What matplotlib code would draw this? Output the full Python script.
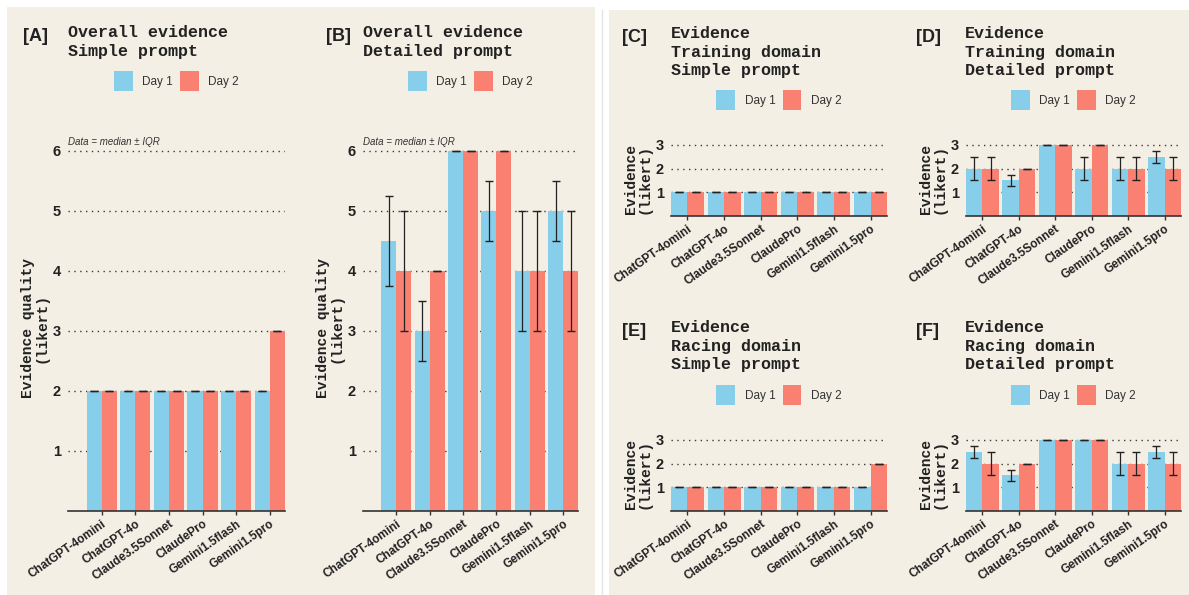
import matplotlib
matplotlib.use("Agg")
import matplotlib.pyplot as plt
from matplotlib.patches import Patch, Rectangle
from matplotlib.lines import Line2D
import numpy as np

# ---------------- data ----------------
models = ["ChatGPT-4omini", "ChatGPT-4o", "Claude3.5Sonnet", "ClaudePro",
          "Gemini1.5flash", "Gemini1.5pro"]
day_labels = ["Day 1", "Day 2"]

# Panel A: Overall evidence, simple prompt (median, lower, upper)
a_d1 = [2, 2, 2, 2, 2, 2]
a_d1_lo = [2, 2, 2, 2, 2, 2]
a_d1_hi = [2, 2, 2, 2, 2, 2]
a_d2 = [2, 2, 2, 2, 2, 3]
a_d2_lo = [2, 2, 2, 2, 2, 3]
a_d2_hi = [2, 2, 2, 2, 2, 3]

# Panel B: Overall evidence, detailed prompt
b_d1 = [4.5, 3, 6, 5, 4, 5]
b_d1_lo = [3.75, 2.5, 6, 4.5, 3, 4.5]
b_d1_hi = [5.25, 3.5, 6, 5.5, 5, 5.5]
b_d2 = [4, 4, 6, 6, 4, 4]
b_d2_lo = [3, 4, 6, 6, 3, 3]
b_d2_hi = [5, 4, 6, 6, 5, 5]

# Panel C: Training domain, simple prompt
c_d1 = [1, 1, 1, 1, 1, 1]
c_d1_lo = [1, 1, 1, 1, 1, 1]
c_d1_hi = [1, 1, 1, 1, 1, 1]
c_d2 = [1, 1, 1, 1, 1, 1]
c_d2_lo = [1, 1, 1, 1, 1, 1]
c_d2_hi = [1, 1, 1, 1, 1, 1]

# Panel D: Training domain, detailed prompt
d_d1 = [2, 1.5, 3, 2, 2, 2.5]
d_d1_lo = [1.5, 1.25, 3, 1.5, 1.5, 2.25]
d_d1_hi = [2.5, 1.75, 3, 2.5, 2.5, 2.75]
d_d2 = [2, 2, 3, 3, 2, 2]
d_d2_lo = [1.5, 2, 3, 3, 1.5, 1.5]
d_d2_hi = [2.5, 2, 3, 3, 2.5, 2.5]

# Panel E: Racing domain, simple prompt
e_d1 = [1, 1, 1, 1, 1, 1]
e_d1_lo = [1, 1, 1, 1, 1, 1]
e_d1_hi = [1, 1, 1, 1, 1, 1]
e_d2 = [1, 1, 1, 1, 1, 2]
e_d2_lo = [1, 1, 1, 1, 1, 2]
e_d2_hi = [1, 1, 1, 1, 1, 2]

# Panel F: Racing domain, detailed prompt
f_d1 = [2.5, 1.5, 3, 3, 2, 2.5]
f_d1_lo = [2.25, 1.25, 3, 3, 1.5, 2.25]
f_d1_hi = [2.75, 1.75, 3, 3, 2.5, 2.75]
f_d2 = [2, 2, 3, 3, 2, 2]
f_d2_lo = [1.5, 2, 3, 3, 1.5, 1.5]
f_d2_hi = [2.5, 2, 3, 3, 2.5, 2.5]

big_yticks = [1, 2, 3, 4, 5, 6]
small_yticks = [1, 2, 3]

# ---------------- style ----------------
BG = "#F4EFE4"
BLUE = "#87CEEB"
RED = "#FA8072"
DARK = "#222222"
MONO = "Liberation Mono"
SANS = "Liberation Sans"

W, H = 1189, 595
fig = plt.figure(figsize=(W / 100, H / 100), dpi=100, facecolor="white")


def fx(px):
    return px / W


def fy(py):
    return 1 - py / H


fig.patches.append(Rectangle((fx(7), 0), fx(595) - fx(7), fy(7), transform=fig.transFigure,
                             facecolor=BG, edgecolor="none", zorder=-10))
fig.patches.append(Rectangle((fx(609), 0), 1 - fx(609), fy(10), transform=fig.transFigure,
                             facecolor=BG, edgecolor="none", zorder=-10))
fig.add_artist(Line2D([fx(602), fx(602)], [0, fy(10)], color="#e4e4e4", lw=1,
                      transform=fig.transFigure, zorder=-10))

panels = [
    dict(tag="[A]", title="Overall evidence\nSimple prompt", d1=(a_d1, a_d1_lo, a_d1_hi),
         d2=(a_d2, a_d2_lo, a_d2_hi), yt=big_yticks, ylab="Evidence quality\n(likert)",
         x0=68, x1=285, y0=511, ppu=60, ytop=6.1, xl=(0.0, 6.45), note=True,
         tagx=23, titx=68, tity=25, legy=81),
    dict(tag="[B]", title="Overall evidence\nDetailed prompt", d1=(b_d1, b_d1_lo, b_d1_hi),
         d2=(b_d2, b_d2_lo, b_d2_hi), yt=big_yticks, ylab="Evidence quality\n(likert)",
         x0=363, x1=578, y0=511, ppu=60, ytop=6.1, xl=(0.0, 6.45), note=True,
         tagx=326, titx=363, tity=25, legy=81),
    dict(tag="[C]", title="Evidence\nTraining domain\nSimple prompt", d1=(c_d1, c_d1_lo, c_d1_hi),
         d2=(c_d2, c_d2_lo, c_d2_hi), yt=small_yticks, ylab="Evidence\n(likert)",
         x0=671, x1=887, y0=216, ppu=23.67, ytop=3.1, xl=(0.55, 6.45), note=False,
         tagx=622, titx=671, tity=26, legy=100),
    dict(tag="[D]", title="Evidence\nTraining domain\nDetailed prompt", d1=(d_d1, d_d1_lo, d_d1_hi),
         d2=(d_d2, d_d2_lo, d_d2_hi), yt=small_yticks, ylab="Evidence\n(likert)",
         x0=966, x1=1181, y0=216, ppu=23.67, ytop=3.1, xl=(0.55, 6.45), note=False,
         tagx=916, titx=965, tity=26, legy=100),
    dict(tag="[E]", title="Evidence\nRacing domain\nSimple prompt", d1=(e_d1, e_d1_lo, e_d1_hi),
         d2=(e_d2, e_d2_lo, e_d2_hi), yt=small_yticks, ylab="Evidence\n(likert)",
         x0=671, x1=887, y0=511, ppu=23.67, ytop=3.1, xl=(0.55, 6.45), note=False,
         tagx=622, titx=671, tity=320, legy=395),
    dict(tag="[F]", title="Evidence\nRacing domain\nDetailed prompt", d1=(f_d1, f_d1_lo, f_d1_hi),
         d2=(f_d2, f_d2_lo, f_d2_hi), yt=small_yticks, ylab="Evidence\n(likert)",
         x0=966, x1=1181, y0=511, ppu=23.67, ytop=3.1, xl=(0.55, 6.45), note=False,
         tagx=916, titx=965, tity=320, legy=395),
]

x = np.arange(1, len(models) + 1)
bw = 0.45

for p in panels:
    hpx = p["ytop"] * p["ppu"]
    ax = fig.add_axes([fx(p["x0"]), fy(p["y0"]), fx(p["x1"]) - fx(p["x0"]), hpx / H])
    ax.set_facecolor("none")
    ax.set_xlim(*p["xl"])
    ax.set_ylim(0, p["ytop"])
    for yv in p["yt"]:
        ax.axhline(yv, color="#3a3a3a", lw=1.0, ls=(0, (1, 3.2)), zorder=0)
    for (med, lo, hi), off, col in [(p["d1"], -bw / 2, BLUE), (p["d2"], bw / 2, RED)]:
        med = np.array(med, float)
        lo = np.array(lo, float)
        hi = np.array(hi, float)
        ax.bar(x + off, med, width=bw, color=col, edgecolor="none", zorder=2)
        ax.errorbar(x + off, med, yerr=[med - lo, hi - med], fmt="none", ecolor=DARK,
                    elinewidth=0.9, capsize=2.8, capthick=1.0, zorder=4)
    for s in ["left", "right", "top"]:
        ax.spines[s].set_visible(False)
    ax.spines["bottom"].set_color("#333333")
    ax.spines["bottom"].set_linewidth(1.2)
    ax.spines["bottom"].set_zorder(5)
    ax.set_yticks(p["yt"])
    ax.set_yticklabels([str(v) for v in p["yt"]], fontsize=10.5, fontweight="bold",
                       family=SANS, color=DARK)
    ax.tick_params(axis="y", length=0, pad=5)
    ax.set_xticks(x)
    ax.set_xticklabels(models, rotation=35, ha="right", va="top", rotation_mode="anchor",
                       fontsize=8.5, fontweight="bold", family=SANS, color=DARK)
    ax.tick_params(axis="x", length=3, width=1, color="#333333", pad=2)
    ax.set_ylabel(p["ylab"], family=MONO, fontweight="bold", fontsize=10.5, color=DARK,
                  labelpad=3, linespacing=1.0)
    if p["note"]:
        ax.text(p["xl"][0], 6.07, "Data = median \u00b1 IQR", fontsize=7, style="italic",
                family=SANS, color="#333333", ha="left", va="bottom", clip_on=False)
    fig.text(fx(p["tagx"]), fy(p["tity"] + 3), p["tag"], fontsize=13, fontweight="bold",
             family=SANS, color=DARK, ha="left", va="top")
    fig.text(fx(p["titx"]), fy(p["tity"]), p["title"], fontsize=12, fontweight="bold",
             family=MONO, color=DARK, ha="left", va="top", linespacing=1.3)
    fig.legend(handles=[Patch(facecolor=BLUE, edgecolor="none", label=day_labels[0]),
                        Patch(facecolor=RED, edgecolor="none", label=day_labels[1])],
               loc="center", bbox_to_anchor=(fx((p["x0"] + p["x1"]) / 2), fy(p["legy"])),
               ncol=2, frameon=False, prop=dict(family=SANS, size=8.5),
               handlelength=1.6, handleheight=2.2, handletextpad=0.8, columnspacing=0.6,
               labelcolor="#333333")

fig.savefig("out.png", dpi=100, facecolor="white")
